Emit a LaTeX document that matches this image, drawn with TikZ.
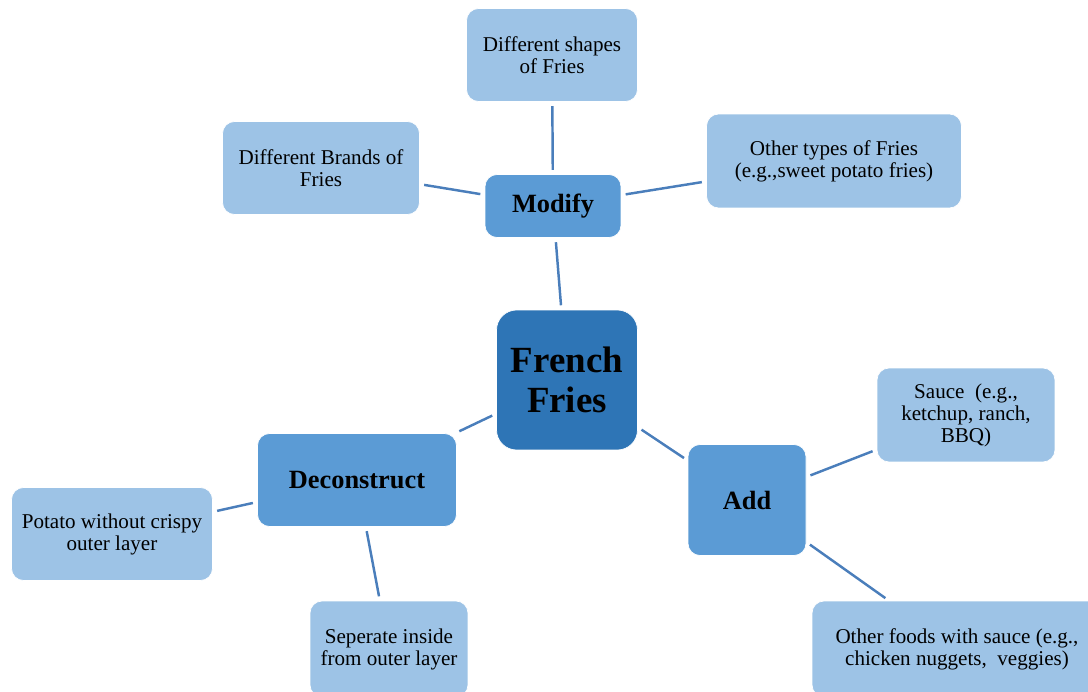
\documentclass[tikz,border=0pt]{standalone}
\usepackage{fontspec}
\setmainfont{Liberation Serif}
\usepackage{tikz}

\definecolor{darkblue}{HTML}{2E75B6}
\definecolor{midblue}{HTML}{5B9BD5}
\definecolor{lightblue}{HTML}{9DC3E6}
\definecolor{linkblue}{HTML}{4A7EBB}

\begin{document}
\begin{tikzpicture}[x=0.02cm,y=-0.02cm,
        core/.style={rounded corners=0.4cm,fill=darkblue,draw=white,align=center,inner sep=0pt,
            font=\fontsize{21}{22.7}\selectfont\bfseries},
        branch/.style={rounded corners=0.24cm,fill=midblue,draw=white,align=center,inner sep=0pt,
            font=\fontsize{15}{18}\selectfont\bfseries},
        leaf/.style={rounded corners=0.24cm,fill=lightblue,draw=white,align=center,inner sep=0pt,
            font=\fontsize{12}{12.5}\selectfont},
        link/.style={draw=linkblue,line width=1.4pt,shorten >=2.5pt,shorten <=2.5pt}]

    \useasboundingbox (0,0) rectangle (1088,692);
    \clip (0,0) rectangle (1088,692);

    % Centre
    \node[core,minimum width=2.82cm,minimum height=2.8cm] (fries) at (567,380) {French\\Fries};

    % Branches
    \node[branch,minimum width=2.72cm,minimum height=1.26cm] (modify) at (553,206) {Modify};
    \node[branch,minimum width=3.98cm,minimum height=1.86cm] (decon) at (357,480) {Deconstruct};
    \node[branch,minimum width=2.36cm,minimum height=2.22cm] (add) at (747,500) {Add};

    % Leaves of Modify
    \node[leaf,minimum width=3.42cm,minimum height=1.86cm] (shapes) at (552,55) {Different shapes\\of Fries};
    \node[leaf,minimum width=3.94cm,minimum height=1.86cm] (brands) at (321,168) {Different Brands of\\Fries};
    \node[leaf,minimum width=5.1cm,minimum height=1.88cm] (types) at (834,161) {Other types of Fries\\(e.g.,sweet potato fries)};

    % Leaves of Add
    \node[leaf,minimum width=3.56cm,minimum height=1.88cm] (sauce) at (966,415) {Sauce\ \ (e.g.,\\ketchup, ranch,\\BBQ)};
    \node[leaf,minimum width=5.8cm,minimum height=1.92cm] (foods) at (957,649) {Other foods with sauce (e.g.,\\chicken nuggets,\ \ veggies)};

    % Leaves of Deconstruct
    \node[leaf,minimum width=4.02cm,minimum height=1.86cm] (potato) at (112,534) {Potato without crispy\\outer layer};
    \node[leaf,minimum width=3.16cm,minimum height=1.92cm] (seperate) at (389,649) {Seperate inside\\from outer layer};

    % Edges
    \draw[link] (fries) -- (modify);
    \draw[link] (fries) -- (decon);
    \draw[link] (fries) -- (add);
    \draw[link] (modify) -- (shapes);
    \draw[link] (modify) -- (brands);
    \draw[link] (modify) -- (types);
    \draw[link] (add) -- (sauce);
    \draw[link] (add) -- (foods);
    \draw[link] (decon) -- (potato);
    \draw[link] (decon) -- (seperate);
\end{tikzpicture}
\end{document}
